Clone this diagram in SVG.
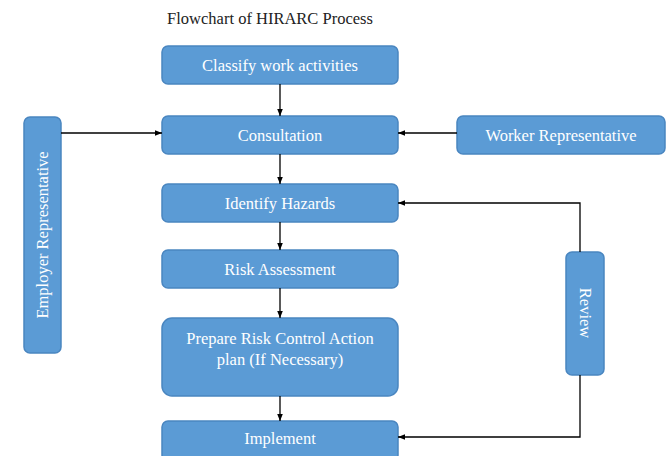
<svg xmlns="http://www.w3.org/2000/svg" width="670" height="456" viewBox="0 0 670 456">
<defs>
<marker id="ah" viewBox="0 0 10 10" refX="10" refY="5" markerWidth="7" markerHeight="7" orient="auto" markerUnits="userSpaceOnUse">
<path d="M0,1 L10,5 L0,9 z" fill="#000"/>
</marker>
</defs>
<style>
.box{fill:#5b9bd5;stroke:#4a86c0;stroke-width:1.5}
.t{fill:#fff;font-family:"Liberation Serif","Times New Roman",serif;font-size:16.5px;text-anchor:middle;dominant-baseline:central}
.title{fill:#222;font-family:"Liberation Serif","Times New Roman",serif;font-size:16.5px;text-anchor:middle}
.c{fill:none;stroke:#000;stroke-width:1.3;marker-end:url(#ah)}
</style>
<rect width="670" height="456" fill="#fff"/>
<text class="title" x="270" y="24">Flowchart of HIRARC Process</text>
<g id="classify"><rect class="box" x="162" y="46" width="236" height="38" rx="6"/><text class="t" x="280" y="65">Classify work activities</text></g>
<g id="consultation"><rect class="box" x="162" y="116" width="236" height="38" rx="6"/><text class="t" x="280" y="135">Consultation</text></g>
<g id="worker"><rect class="box" x="457" y="116" width="208" height="38" rx="6"/><text class="t" x="561" y="135">Worker Representative</text></g>
<g id="employer"><rect class="box" x="24" y="117" width="37" height="236" rx="6"/><text class="t" transform="translate(42.5 235) rotate(-90)">Employer Representative</text></g>
<g id="identify"><rect class="box" x="162" y="184" width="236" height="38" rx="6"/><text class="t" x="280" y="203">Identify Hazards</text></g>
<g id="risk"><rect class="box" x="162" y="250" width="236" height="38" rx="6"/><text class="t" x="280" y="269">Risk Assessment</text></g>
<g id="prepare"><rect class="box" x="162" y="318" width="236" height="78" rx="10"/><text class="t" x="280" y="338">Prepare Risk Control Action</text><text class="t" x="280" y="359">plan (If Necessary)</text></g>
<g id="implement"><rect class="box" x="162" y="421" width="236" height="40" rx="6"/><text class="t" x="280" y="438">Implement</text></g>
<g id="review"><rect class="box" x="566" y="252" width="38" height="123" rx="6"/><text class="t" transform="translate(585 313) rotate(90)">Review</text></g>
<g id="connectors">
<path class="c" d="M280,84 V116"/>
<path class="c" d="M61,133 H162"/>
<path class="c" d="M457,133 H398"/>
<path class="c" d="M280,154 V184"/>
<path class="c" d="M280,222 V250"/>
<path class="c" d="M280,288 V318"/>
<path class="c" d="M280,396 V421"/>
<path class="c" d="M580,252 V203 H398"/>
<path class="c" d="M580,375 V437 H398"/>
</g>
</svg>
